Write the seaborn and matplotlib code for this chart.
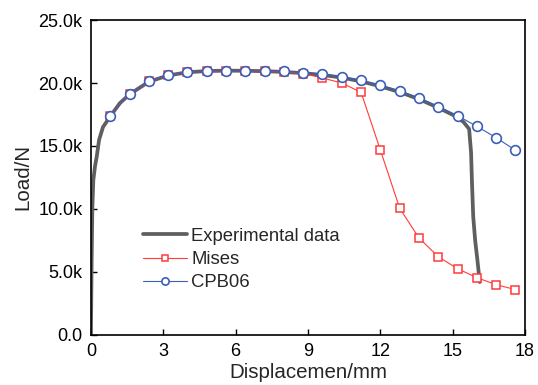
import numpy as np
import pandas as pd
import matplotlib
matplotlib.use("Agg")
import matplotlib.pyplot as plt
from matplotlib.ticker import FuncFormatter
import seaborn as sns

# values (load in kN, displacement in mm)
sim_x = [0.8, 1.6, 2.4, 3.2, 4.0, 4.8, 5.6, 6.4, 7.2, 8.0, 8.8,
         9.6, 10.4, 11.2, 12.0, 12.8, 13.6, 14.4, 15.2, 16.0, 16.8, 17.6]
cpb06_y = [17.40, 19.15, 20.13, 20.61, 20.85, 20.95, 20.98, 20.98, 20.95, 20.93, 20.82,
           20.71, 20.50, 20.21, 19.82, 19.37, 18.81, 18.12, 17.40, 16.56, 15.66, 14.66]
mises_y = [17.40, 19.15, 20.13, 20.61, 20.85, 20.95, 20.98, 20.98, 20.95, 20.90, 20.75,
           20.40, 20.00, 19.26, 14.68, 10.06, 7.70, 6.21, 5.26, 4.55, 3.99, 3.60]

exp_x = [0.0, 0.03, 0.06, 0.10, 0.17, 0.24, 0.34, 0.50, 0.80, 1.2, 1.6, 2.4, 3.2, 4.0,
         4.8, 5.6, 6.4, 7.2, 8.0, 8.8, 9.6, 10.4, 11.2, 12.0, 12.8, 13.6, 14.4, 15.1,
         15.45, 15.68, 15.76, 15.80, 15.85, 15.93, 16.02, 16.12]
exp_y = [0.0, 6.0, 10.2, 12.3, 13.4, 14.15, 15.5, 16.5, 17.35, 18.4, 19.1, 20.1, 20.6, 20.85,
         20.95, 20.98, 20.97, 20.94, 20.88, 20.78, 20.64, 20.43, 20.13, 19.74, 19.28, 18.72,
         18.04, 17.38, 16.9, 16.35, 14.5, 12.0, 9.4, 7.5, 6.0, 4.2]

x_ticks = [0, 3, 6, 9, 12, 15, 18]
y_ticks = [0, 5, 10, 15, 20, 25]

sns.set_style("ticks")
plt.rcParams['font.family'] = ['Liberation Sans', 'DejaVu Sans']

exp_df = pd.DataFrame({"x": exp_x, "y": exp_y})
sim_df = pd.DataFrame({"x": sim_x, "mises": mises_y, "cpb06": cpb06_y})

fig = plt.figure(figsize=(5.38, 3.85), dpi=100)
ax = fig.add_axes([0.169, 0.130, 0.807, 0.818])

sns.lineplot(data=exp_df, x="x", y="y", ax=ax, sort=False, color="#5f5f5f",
             linewidth=2.7, label="Experimental data")
sns.lineplot(data=sim_df, x="x", y="mises", ax=ax, sort=False, color="#ff3b3b",
             linewidth=0.8, marker="s", markersize=5.2, markerfacecolor="white",
             markeredgecolor="#ff3b3b", markeredgewidth=1.1, label="Mises")
sns.lineplot(data=sim_df, x="x", y="cpb06", ax=ax, sort=False, color="#3a5fb8",
             linewidth=0.8, marker="o", markersize=7, markerfacecolor="white",
             markeredgecolor="#3a5fb8", markeredgewidth=1.2, label="CPB06")

ax.set_xlim(0, 18)
ax.set_ylim(0, 25)
ax.set_xticks(x_ticks)
ax.set_yticks(y_ticks)
ax.yaxis.set_major_formatter(FuncFormatter(lambda v, p: "0.0" if v == 0 else f"{v:.1f}k"))
ax.tick_params(direction="in", length=4, width=1, labelsize=13, colors="black", pad=6)
for s in ax.spines.values():
    s.set_linewidth(1.2)
    s.set_color("black")

ax.set_xlabel("Displacemen/mm", fontsize=14.8, labelpad=2)
ax.set_ylabel("Load/N", fontsize=14.8, labelpad=4)

ax.legend(loc="upper left", bbox_to_anchor=(0.12, 0.34), frameon=False, fontsize=13.3,
          handlelength=2.4, handletextpad=0.2, labelspacing=0.33, markerscale=0.75,
          borderaxespad=0, borderpad=0)

fig.savefig("out.png", dpi=100)
